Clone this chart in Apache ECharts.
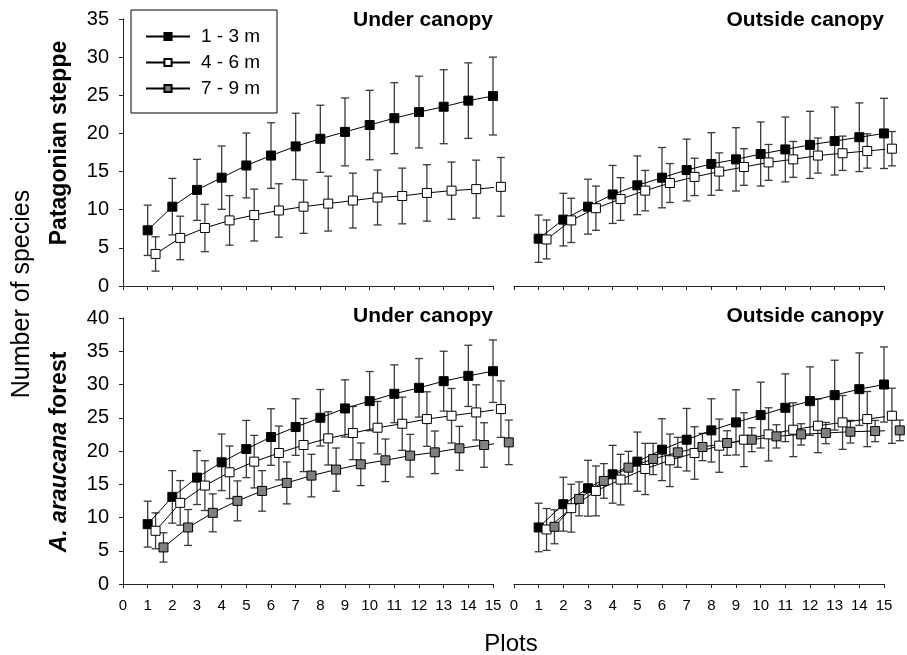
<!DOCTYPE html>
<html>
<head>
<meta charset="utf-8">
<script src="https://cdn.jsdelivr.net/npm/echarts@6/dist/echarts.min.js"></script>
<style>
  html, body { margin: 0; padding: 0; background: #fff; }
  #chart { width: 907px; height: 655px; }
</style>
</head>
<body>
<div id="chart"></div>
<script>
// plots sampled (x values)
const plots = [1, 2, 3, 4, 5, 6, 7, 8, 9, 10, 11, 12, 13, 14, 15];
const sizeClasses = ["1 - 3 m", "4 - 6 m", "7 - 9 m"];
const yTicksSteppe = [0, 35];
const yTicksForest = [0, 40];

// Patagonian steppe - under canopy
const steppeUnder13 = [7.3, 10.4, 12.6, 14.2, 15.8, 17.1, 18.3, 19.3, 20.2, 21.1, 22.0, 22.8, 23.5, 24.3, 24.9];
const steppeUnder13Err = [3.3, 3.7, 4.0, 4.15, 4.25, 4.3, 4.35, 4.4, 4.45, 4.55, 4.65, 4.7, 4.85, 4.95, 5.1];
const steppeUnder46 = [4.2, 6.3, 7.6, 8.6, 9.3, 9.9, 10.4, 10.8, 11.2, 11.6, 11.8, 12.2, 12.5, 12.7, 13.0];
const steppeUnder46Err = [2.25, 2.85, 3.1, 3.25, 3.4, 3.5, 3.5, 3.6, 3.6, 3.6, 3.65, 3.7, 3.75, 3.8, 3.85];

// Patagonian steppe - outside canopy
const steppeOutside13 = [6.2, 8.7, 10.4, 12.0, 13.2, 14.2, 15.2, 16.0, 16.6, 17.3, 17.9, 18.5, 19.0, 19.5, 20.0];
const steppeOutside13Err = [3.1, 3.45, 3.6, 3.8, 3.85, 3.95, 4.05, 4.1, 4.15, 4.2, 4.25, 4.4, 4.45, 4.5, 4.6];
const steppeOutside46 = [6.1, 8.6, 10.2, 11.4, 12.5, 13.5, 14.3, 15.0, 15.6, 16.2, 16.6, 17.1, 17.4, 17.7, 18.0];
const steppeOutside46Err = [2.55, 2.9, 2.9, 2.8, 2.65, 2.55, 2.45, 2.45, 2.4, 2.35, 2.35, 2.3, 2.25, 2.25, 2.25];

// A. araucana forest - under canopy
const forestUnder13 = [9.0, 13.1, 16.0, 18.3, 20.3, 22.1, 23.6, 25.0, 26.4, 27.5, 28.6, 29.5, 30.5, 31.3, 32.0];
const forestUnder13Err = [3.45, 3.95, 4.05, 4.25, 4.3, 4.25, 4.25, 4.25, 4.3, 4.45, 4.35, 4.4, 4.5, 4.6, 4.7];
const forestUnder46 = [8.0, 12.2, 14.8, 16.8, 18.4, 19.7, 20.9, 21.9, 22.7, 23.5, 24.1, 24.8, 25.3, 25.8, 26.3];
const forestUnder46Err = [2.7, 3.35, 3.75, 3.95, 3.95, 4.05, 4.0, 4.0, 4.0, 3.95, 4.0, 4.1, 4.1, 4.15, 4.25];
const forestUnder79 = [5.5, 8.5, 10.7, 12.5, 14.0, 15.2, 16.3, 17.2, 18.0, 18.6, 19.3, 19.8, 20.4, 20.9, 21.3];
const forestUnder79Err = [2.2, 2.7, 2.85, 3.0, 3.05, 3.15, 3.2, 3.25, 3.2, 3.2, 3.2, 3.2, 3.3, 3.35, 3.35];

// A. araucana forest - outside canopy
const forestOutside13 = [8.5, 12.0, 14.4, 16.5, 18.4, 20.2, 21.7, 23.1, 24.3, 25.4, 26.5, 27.5, 28.4, 29.3, 30.0];
const forestOutside13Err = [3.65, 4.05, 4.2, 4.35, 4.45, 4.65, 4.7, 4.75, 4.9, 4.95, 5.1, 5.15, 5.25, 5.45, 5.65];
const forestOutside46 = [8.2, 11.4, 14.0, 15.7, 17.3, 18.6, 19.7, 20.8, 21.7, 22.5, 23.2, 23.8, 24.3, 24.8, 25.3];
const forestOutside46Err = [3.15, 3.6, 3.75, 3.8, 3.85, 3.95, 3.95, 4.0, 4.05, 4.0, 4.05, 4.05, 4.05, 4.15, 4.15];
const forestOutside79 = [8.6, 12.8, 15.5, 17.5, 18.8, 19.8, 20.6, 21.2, 21.7, 22.2, 22.5, 22.7, 22.9, 23.0, 23.1];
const forestOutside79Err = [2.55, 2.55, 2.6, 2.45, 2.35, 2.25, 2.05, 1.85, 1.8, 1.75, 1.6, 1.6, 1.7, 1.6, 1.55];

const FONT = "'Liberation Sans', Arial, Helvetica, sans-serif";
const fills = ["#000000", "#ffffff", "#808080"];
const shifts = [0, 0.32, 0.64];

const chart = echarts.init(document.getElementById("chart"), null, { renderer: "canvas" });

function errRender(params, api) {
  const x = api.value(0);
  const top = api.coord([x, api.value(2)]);
  const bot = api.coord([x, api.value(1)]);
  const cap = 4;
  const st = { stroke: "#3a3a3a", lineWidth: 1.3 };
  return {
    type: "group",
    children: [
      { type: "line", shape: { x1: top[0], y1: top[1], x2: bot[0], y2: bot[1] }, style: st },
      { type: "line", shape: { x1: top[0] - cap, y1: top[1], x2: top[0] + cap, y2: top[1] }, style: st },
      { type: "line", shape: { x1: bot[0] - cap, y1: bot[1], x2: bot[0] + cap, y2: bot[1] }, style: st }
    ]
  };
}

function addGroup(series, grid, k, means, errs) {
  const xs = plots.map(p => p + shifts[k]);
  series.push({
    name: "err" + grid + k,
    type: "custom",
    xAxisIndex: grid,
    yAxisIndex: grid,
    clip: false,
    z: 2,
    renderItem: errRender,
    data: xs.map((x, i) => [x, means[i] - errs[i], means[i] + errs[i]])
  });
  series.push({
    name: sizeClasses[k],
    type: "line",
    xAxisIndex: grid,
    yAxisIndex: grid,
    clip: false,
    z: 3,
    symbol: "rect",
    symbolSize: 9,
    lineStyle: { color: "#000", width: 1 },
    itemStyle: { color: fills[k], borderColor: "#000", borderWidth: 1 },
    data: xs.map((x, i) => [x, means[i]])
  });
}

const series = [];
addGroup(series, 0, 0, steppeUnder13, steppeUnder13Err);
addGroup(series, 0, 1, steppeUnder46, steppeUnder46Err);
addGroup(series, 1, 0, steppeOutside13, steppeOutside13Err);
addGroup(series, 1, 1, steppeOutside46, steppeOutside46Err);
addGroup(series, 2, 0, forestUnder13, forestUnder13Err);
addGroup(series, 2, 1, forestUnder46, forestUnder46Err);
addGroup(series, 2, 2, forestUnder79, forestUnder79Err);
addGroup(series, 3, 0, forestOutside13, forestOutside13Err);
addGroup(series, 3, 1, forestOutside46, forestOutside46Err);
addGroup(series, 3, 2, forestOutside79, forestOutside79Err);

const grids = [
  { left: 123, top: 19, width: 370, height: 267 },
  { left: 514, top: 19, width: 370, height: 267 },
  { left: 123, top: 318, width: 370, height: 266 },
  { left: 514, top: 318, width: 370, height: 266 }
];

function xAxis(i, labels) {
  return {
    type: "value", gridIndex: i, min: 0, max: 15, interval: 1,
    axisLine: { lineStyle: { color: "#222", width: 1 } },
    axisTick: { show: true, inside: false, length: 4, lineStyle: { color: "#222" } },
    axisLabel: { show: labels, fontSize: 15, color: "#000", fontFamily: FONT, margin: 14 },
    splitLine: { show: false }
  };
}
function yAxis(i, ticks, visible) {
  return {
    type: "value", gridIndex: i, min: ticks[0], max: ticks[1], interval: 5,
    axisLine: { show: visible, lineStyle: { color: "#222", width: 1 } },
    axisTick: { show: visible, inside: false, length: 4, lineStyle: { color: "#222" } },
    axisLabel: { show: visible, fontSize: 20, color: "#000", fontFamily: FONT, margin: 14 },
    splitLine: { show: false }
  };
}

function panelTitle(text, x, y) {
  return {
    type: "text", x: x, y: y, z: 10,
    style: { text: text, fontSize: 21, fontWeight: "bold", fontFamily: FONT, fill: "#000", align: "right", verticalAlign: "middle" }
  };
}

chart.setOption({
  animation: false,
  backgroundColor: "#fff",
  grid: grids,
  xAxis: [xAxis(0, false), xAxis(1, false), xAxis(2, true), xAxis(3, true)],
  yAxis: [yAxis(0, yTicksSteppe, true), yAxis(1, yTicksSteppe, false), yAxis(2, yTicksForest, true), yAxis(3, yTicksForest, false)],
  legend: {
    data: sizeClasses,
    orient: "vertical",
    left: 131,
    top: 12,
    padding: [15, 17, 0, 14],
    itemGap: 7,
    itemWidth: 44,
    itemHeight: 9,
    selectedMode: false,
    textStyle: { fontSize: 19, color: "#000", fontFamily: FONT, padding: [0, 0, 0, 6] }
  },
  graphic: [
    {
      type: "rect", z: 1,
      shape: { x: 131, y: 10, width: 146, height: 103 },
      style: { fill: "#fff", stroke: "#000", lineWidth: 1 }
    },
    panelTitle("Under canopy", 493, 20),
    panelTitle("Outside canopy", 884, 20),
    panelTitle("Under canopy", 493, 316),
    panelTitle("Outside canopy", 884, 316),
    {
      type: "text", x: 511, y: 644,
      style: { text: "Plots", fontSize: 24, fontFamily: FONT, fill: "#000", align: "center", verticalAlign: "middle" }
    },
    {
      type: "text", x: 22, y: 294, rotation: Math.PI / 2,
      style: { text: "Number of species", fontSize: 25, fontFamily: FONT, fill: "#000", align: "center", verticalAlign: "middle" }
    },
    {
      type: "text", x: 60, y: 143, rotation: Math.PI / 2,
      style: { text: "Patagonian steppe", fontSize: 23, fontWeight: "bold", fontFamily: FONT, fill: "#000", align: "center", verticalAlign: "middle" }
    },
    {
      type: "text", x: 60, y: 452, rotation: Math.PI / 2,
      style: {
        text: "{i|A. araucana} forest", fontSize: 23, fontWeight: "bold", fontFamily: FONT, fill: "#000", align: "center", verticalAlign: "middle",
        rich: { i: { fontSize: 23, fontWeight: "bold", fontStyle: "italic", fontFamily: FONT, fill: "#000" } }
      }
    }
  ],
  series: series
});
</script>
</body>
</html>
